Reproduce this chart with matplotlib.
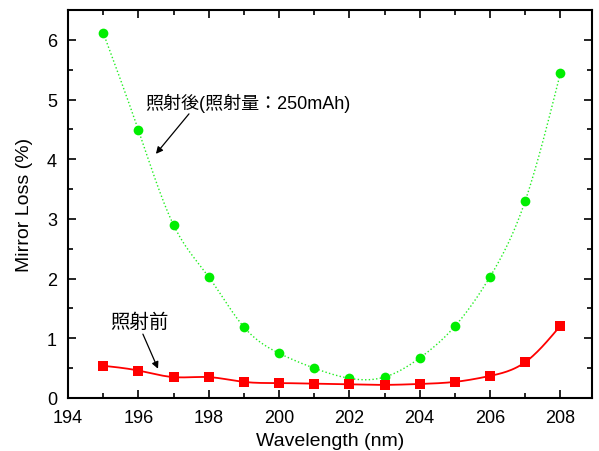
import matplotlib
matplotlib.use('Agg')
import matplotlib.pyplot as plt
import numpy as np
from matplotlib.ticker import MultipleLocator

plt.rcParams['font.family'] = ['Liberation Sans', 'Noto Sans CJK JP', 'DejaVu Sans']

# 波長 (nm)
wavelength = [195, 196, 197, 198, 199, 200, 201, 202, 203, 204, 205, 206, 207, 208]
# 照射後 (照射量:250mAh)
loss_after = [6.12, 4.49, 2.90, 2.03, 1.19, 0.75, 0.50, 0.33, 0.35, 0.67, 1.20, 2.03, 3.30, 5.44]
# 照射前
loss_before = [0.54, 0.46, 0.35, 0.35, 0.27, 0.25, 0.24, 0.23, 0.22, 0.235, 0.27, 0.37, 0.60, 1.21]


def smooth(x, y, n=300):
    # 自然三次スプライン (描画用の滑らかな線)
    x = np.asarray(x, float)
    y = np.asarray(y, float)
    k = len(x)
    h = np.diff(x)
    A = np.zeros((k, k))
    b = np.zeros(k)
    A[0, 0] = A[-1, -1] = 1
    for i in range(1, k - 1):
        A[i, i - 1] = h[i - 1]
        A[i, i] = 2 * (h[i - 1] + h[i])
        A[i, i + 1] = h[i]
        b[i] = 6 * ((y[i + 1] - y[i]) / h[i] - (y[i] - y[i - 1]) / h[i - 1])
    M = np.linalg.solve(A, b)
    xs = np.linspace(x[0], x[-1], n)
    idx = np.clip(np.searchsorted(x, xs) - 1, 0, k - 2)
    x0, x1 = x[idx], x[idx + 1]
    hh = x1 - x0
    ys = (M[idx] * (x1 - xs) ** 3 / (6 * hh) + M[idx + 1] * (xs - x0) ** 3 / (6 * hh)
          + (y[idx] / hh - M[idx] * hh / 6) * (x1 - xs)
          + (y[idx + 1] / hh - M[idx + 1] * hh / 6) * (xs - x0))
    return xs, ys


fig = plt.figure(figsize=(5.99, 4.52), dpi=100)
ax = fig.add_axes([68 / 599, 1 - 399 / 452, (592 - 68) / 599, (399 - 11) / 452])

xs, ys = smooth(wavelength, loss_after)
ax.plot(xs, ys, color='#22ee22', linestyle=':', linewidth=1.0)
ax.plot(wavelength, loss_after, 'o', color='#00ee00', markersize=7, markeredgewidth=0)

xs, ys = smooth(wavelength, loss_before)
ax.plot(xs, ys, color='#ff0000', linestyle='-', linewidth=1.3)
ax.plot(wavelength, loss_before, 's', color='#ff0000', markersize=6.5, markeredgewidth=0)

ax.set_xlim(194, 208.9)
ax.set_ylim(0, 6.5)
ax.xaxis.set_major_locator(MultipleLocator(2))
ax.xaxis.set_minor_locator(MultipleLocator(1))
ax.yaxis.set_major_locator(MultipleLocator(1))
ax.yaxis.set_minor_locator(MultipleLocator(0.5))
ax.tick_params(which='both', direction='in', top=True, right=True, width=1.2, labelsize=13, pad=8)
ax.tick_params(which='major', length=6)
ax.tick_params(which='minor', length=3.5)
for s in ax.spines.values():
    s.set_linewidth(1.5)

ax.set_xlabel('Wavelength (nm)', fontsize=14, labelpad=4)
ax.set_ylabel('Mirror Loss (%)', fontsize=14, labelpad=10)

arrow = dict(arrowstyle='-|>', color='black', lw=0.9, shrinkA=0, shrinkB=0, mutation_scale=10)

ax.text(196.2, 4.95, '照射後(照射量：250mAh)', fontsize=13, ha='left', va='center')
ax.annotate('', xy=(196.5, 4.09), xytext=(197.44, 4.76), arrowprops=arrow)

ax.text(195.2, 1.28, '照射前', fontsize=14, ha='left', va='center')
ax.annotate('', xy=(196.56, 0.49), xytext=(196.13, 1.07), arrowprops=arrow)

fig.savefig('out.png', dpi=100)
